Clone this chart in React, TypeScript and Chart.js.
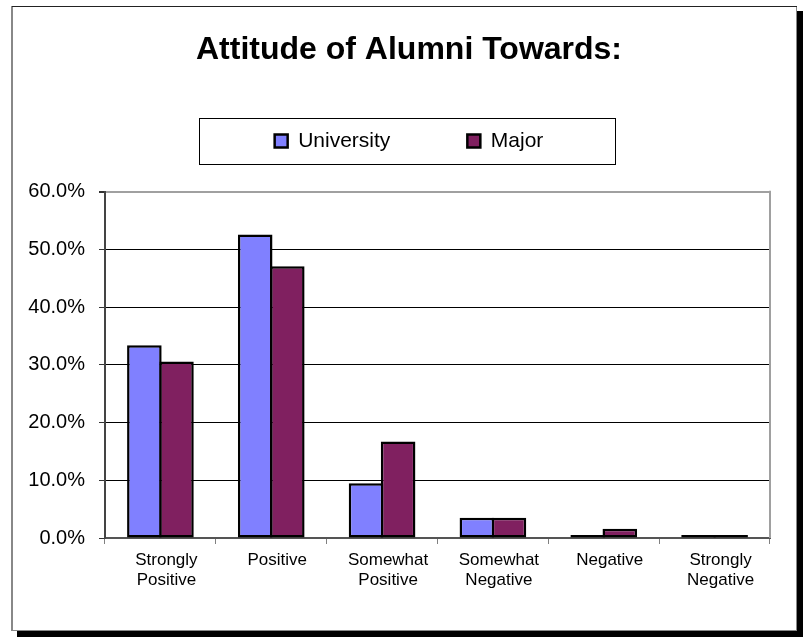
import React, { useEffect, useRef } from 'react';
import { Chart, registerables } from 'chart.js';

Chart.register(...registerables);

const categories: (string | string[])[] = [
  ['Strongly', 'Positive'],
  'Positive',
  ['Somewhat', 'Positive'],
  ['Somewhat', 'Negative'],
  'Negative',
  ['Strongly', 'Negative'],
];
const seriesNames = ['University', 'Major'];
const universityValues = [33.4, 52.6, 9.5, 3.5, 0.5, 0.5];
const majorValues = [30.6, 47.1, 16.7, 3.5, 1.6, 0.5];
const yMin = 0;
const yMax = 60;
const yStep = 10;
const chartTitle = 'Attitude of Alumni Towards:';

const FONT = '"Liberation Sans", Arial, Helvetica, sans-serif';
const HEADER_CENTER_X = 409;

const framePlugin = {
  id: 'frame',
  afterLayout(chart: any) {
    const boxes = [chart.titleBlock, chart.legend];
    boxes.forEach((b: any) => {
      if (!b) return;
      const shift = HEADER_CENTER_X - (b.left + b.right) / 2;
      b.left += shift;
      b.right += shift;
    });
  },
  beforeDraw(chart: any) {
    const { ctx, width, height } = chart;
    ctx.save();
    ctx.fillStyle = '#ffffff';
    ctx.fillRect(0, 0, width, height);
    // drop shadow
    ctx.fillStyle = '#000000';
    ctx.fillRect(17, 11, width - 17, height - 12);
    // white frame
    ctx.fillStyle = '#ffffff';
    ctx.fillRect(12, 6, width - 18, height - 13);
    // frame border
    ctx.fillStyle = '#888888';
    ctx.fillRect(11, 6, 2, height - 13);
    ctx.fillRect(12, height - 8, width - 18, 1);
    ctx.fillRect(width - 7, 6, 1, height - 13);
    ctx.fillStyle = '#222222';
    ctx.fillRect(12, 6, width - 18, 1);
    ctx.restore();
  },
  afterDraw(chart: any) {
    const { ctx, chartArea, legend } = chart;
    ctx.save();
    // plot-area right border
    ctx.strokeStyle = '#a0a0a0';
    ctx.lineWidth = 2;
    ctx.beginPath();
    ctx.moveTo(chartArea.right, chartArea.top - 1);
    ctx.lineTo(chartArea.right, chartArea.bottom);
    ctx.stroke();
    // legend box
    if (legend && legend.legendHitBoxes && legend.legendHitBoxes.length) {
      const hb = legend.legendHitBoxes;
      const cx = (legend.left + legend.right) / 2;
      const cy = hb[0].top + hb[0].height / 2;
      ctx.strokeStyle = '#000000';
      ctx.lineWidth = 1;
      ctx.strokeRect(Math.round(cx - 210) + 0.5, Math.round(cy - 23) + 0.5, 416, 46);
    }
    ctx.restore();
  },
};

export default function App() {
  const canvasRef = useRef<HTMLCanvasElement | null>(null);

  useEffect(() => {
    if (!canvasRef.current) return;
    const barCommon = {
      borderColor: '#000000',
      borderWidth: 2.5,
      borderSkipped: false as const,
      categoryPercentage: 0.579,
      barPercentage: 1.078,
    };
    const chart = new Chart(canvasRef.current, {
      type: 'bar',
      data: {
        labels: categories,
        datasets: [
          {
            label: seriesNames[0],
            data: universityValues,
            backgroundColor: '#8080FF',
            ...barCommon,
          },
          {
            label: seriesNames[1],
            data: majorValues,
            backgroundColor: '#802060',
            ...barCommon,
          },
        ],
      },
      options: {
        animation: false,
        responsive: false,
        maintainAspectRatio: false,
        layout: { padding: { top: 6, left: 12, right: 33, bottom: 45 } },
        plugins: {
          title: {
            display: true,
            text: chartTitle,
            color: '#000000',
            font: { family: FONT, size: 32, weight: 'bold', lineHeight: 1.2 },
            padding: { top: 25, bottom: -15.9 },
          },
          subtitle: {
            display: true,
            text: '',
            weight: 500,
            font: { size: 10, lineHeight: 1 },
            padding: { top: 20.2, bottom: 0 },
          },
          legend: {
            display: true,
            position: 'top',
            labels: {
              color: '#000000',
              font: { family: FONT, size: 21 },
              boxWidth: 13,
              boxHeight: 13,
              padding: 77,
            },
          },
          tooltip: { enabled: false },
        },
        scales: {
          x: {
            afterFit: (s: any) => {
              s.height = 55;
            },
            grid: {
              display: true,
              drawOnChartArea: false,
              drawTicks: true,
              tickLength: 6,
              color: '#808080',
              offset: true,
            },
            border: { display: true, color: '#555555', width: 2 },
            ticks: {
              color: '#000000',
              font: { family: FONT, size: 17, lineHeight: 1.15 },
              padding: 7,
              labelOffset: 6,
              maxRotation: 0,
              autoSkip: false,
            },
          },
          y: {
            min: yMin,
            max: yMax,
            afterFit: (s: any) => {
              s.width = 93;
            },
            grid: {
              color: (c: any) => (c.tick && c.tick.value === yMax ? '#a0a0a0' : '#000000'),
              lineWidth: (c: any) => (c.tick && c.tick.value === yMax ? 2 : 1),
              tickColor: '#333333',
              tickLength: 6,
              drawTicks: true,
            },
            border: { display: true, color: '#444444', width: 2 },
            ticks: {
              stepSize: yStep,
              color: '#000000',
              font: { family: FONT, size: 20 },
              padding: 14,
              callback: (v: any) => Number(v).toFixed(1) + '%',
            },
          },
        },
      },
      plugins: [framePlugin],
    });
    return () => chart.destroy();
  }, []);

  return (
    <div style={{ position: 'absolute', left: 0, top: 0, width: 803, height: 638 }}>
      <canvas ref={canvasRef} width={803} height={638} style={{ display: 'block', width: 803, height: 638 }} />
    </div>
  );
}
